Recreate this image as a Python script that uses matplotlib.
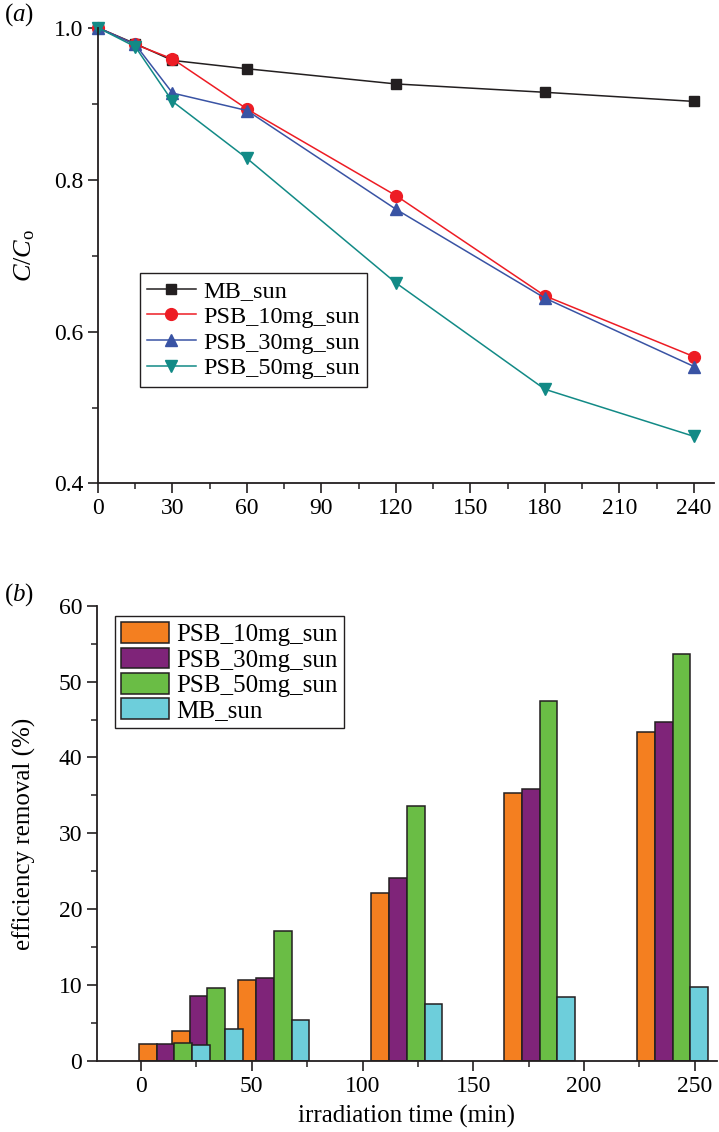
import matplotlib
matplotlib.use("Agg")
import matplotlib.pyplot as plt
from matplotlib.ticker import MultipleLocator

plt.rcParams['font.family'] = ['Liberation Serif', 'DejaVu Serif']
plt.rcParams['mathtext.fontset'] = 'custom'
plt.rcParams['mathtext.rm'] = 'Liberation Serif'
plt.rcParams['mathtext.it'] = 'Liberation Serif:italic'

# ---- data: panel (a), C/C0 vs irradiation time ----
times = [0, 15, 30, 60, 120, 180, 240]
mb_sun = [1.0, 0.979, 0.957, 0.946, 0.926, 0.915, 0.903]
psb10_sun = [1.0, 0.978, 0.959, 0.893, 0.779, 0.647, 0.567]
psb30_sun = [1.0, 0.978, 0.914, 0.891, 0.761, 0.644, 0.554]
psb50_sun = [1.0, 0.975, 0.903, 0.828, 0.664, 0.524, 0.462]

# ---- data: panel (b), removal efficiency (%) ----
bar_times = [15, 30, 60, 120, 180, 240]
eff_psb10 = [2.3, 4.0, 10.7, 22.1, 35.3, 43.4]
eff_psb30 = [2.2, 8.6, 10.9, 24.1, 35.8, 44.7]
eff_psb50 = [2.4, 9.6, 17.1, 33.6, 47.4, 53.6]
eff_mb = [2.1, 4.2, 5.4, 7.5, 8.5, 9.7]

EDGE = '#231f20'
TICK_FS = 17
LABEL_FS = 18

fig = plt.figure(figsize=(7.19, 11.32), dpi=100)

# ---------------- panel (a) ----------------
ax1 = fig.add_axes([0.1363, 0.5729, 0.8565, 0.4026])
series = [
    (mb_sun, 'MB_sun', '#231f20', 's', 7),
    (psb10_sun, 'PSB_10mg_sun', '#ed1c24', 'o', 8.5),
    (psb30_sun, 'PSB_30mg_sun', '#3953a4', '^', 9),
    (psb50_sun, 'PSB_50mg_sun', '#128a86', 'v', 9),
]
for vals, lab, col, mk, ms in series:
    ax1.plot(times, vals, color=col, marker=mk, markersize=ms, lw=1.1,
             label=lab, clip_on=False)

ax1.set_xlim(0, 248)
ax1.set_ylim(0.4, 1.0)
ax1.xaxis.set_major_locator(MultipleLocator(30))
ax1.xaxis.set_minor_locator(MultipleLocator(15))
ax1.yaxis.set_major_locator(MultipleLocator(0.2))
ax1.yaxis.set_minor_locator(MultipleLocator(0.1))
ax1.yaxis.set_major_formatter(plt.FuncFormatter(lambda v, p: f'{v:.1f}'))
ax1.set_ylabel(r'$C/C_{\mathrm{o}}$', fontsize=19, labelpad=12)
ax1.legend(loc='upper left', bbox_to_anchor=(0.068, 0.462), borderaxespad=0,
           fontsize=17.5, frameon=True, fancybox=False, edgecolor=EDGE,
           framealpha=1, labelspacing=0.15, handlelength=2.0,
           handletextpad=0.3, borderpad=0.3)

# ---------------- panel (b) ----------------
ax2 = fig.add_axes([0.1345, 0.0627, 0.8627, 0.4022])
bw = 8
bar_series = [
    (eff_psb10, 'PSB_10mg_sun', '#f47f20', -12),
    (eff_psb30, 'PSB_30mg_sun', '#7f2479', -4),
    (eff_psb50, 'PSB_50mg_sun', '#6abd45', 4),
    (eff_mb, 'MB_sun', '#6dcedb', 12),
]
for vals, lab, col, off in bar_series:
    ax2.bar([t + off for t in bar_times], vals, width=bw, color=col,
            edgecolor=EDGE, linewidth=1.1, label=lab)

ax2.set_xlim(-20, 260)
ax2.set_ylim(0, 60)
ax2.xaxis.set_major_locator(MultipleLocator(50))
ax2.xaxis.set_minor_locator(MultipleLocator(25))
ax2.yaxis.set_major_locator(MultipleLocator(10))
ax2.yaxis.set_minor_locator(MultipleLocator(5))
ax2.set_xlabel('irradiation time (min)', fontsize=LABEL_FS, labelpad=6)
ax2.set_ylabel('efficiency removal (%)', fontsize=LABEL_FS, labelpad=16)
ax2.legend(loc='upper left', bbox_to_anchor=(0.0295, 0.977), borderaxespad=0,
           fontsize=18, frameon=True, fancybox=False, edgecolor=EDGE,
           framealpha=1, labelspacing=0.05, handlelength=1.9,
           handleheight=0.9, handletextpad=0.3, borderpad=0.25)

# panel letters
fig.text(4 / 719, 1 - 15 / 1132, r'($\mathit{a}$)', fontsize=LABEL_FS,
         ha='left', va='center')
fig.text(4 / 719, 1 - 595 / 1132, r'($\mathit{b}$)', fontsize=LABEL_FS,
         ha='left', va='center')

for ax in (ax1, ax2):
    ax.spines['top'].set_visible(False)
    ax.spines['right'].set_visible(False)
    for s in ('left', 'bottom'):
        ax.spines[s].set_linewidth(1.3)
        ax.spines[s].set_color(EDGE)
    ax.tick_params(which='major', direction='out', length=7, width=1.2,
                   labelsize=TICK_FS, color=EDGE)
    ax.tick_params(which='minor', direction='out', length=4, width=1.1,
                   color=EDGE)

fig.savefig('out.png', dpi=100)
